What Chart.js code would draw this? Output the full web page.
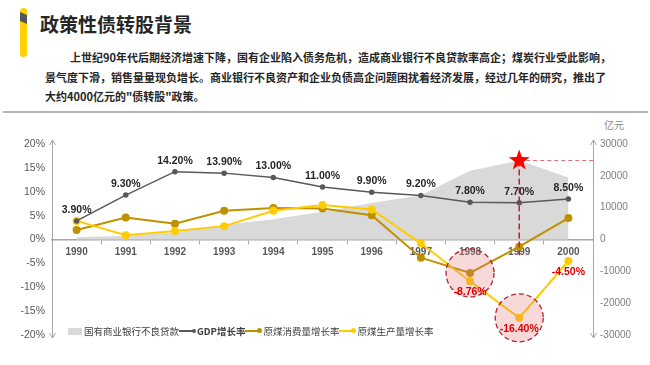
<!DOCTYPE html>
<html>
<head>
<meta charset="utf-8">
<script src="https://cdn.jsdelivr.net/npm/chart.js@4"></script>
<style>
  body { margin: 0; background: #fff; }
  #page { position: relative; width: 650px; height: 365px; overflow: hidden; font-family: "Noto Sans CJK SC", "Liberation Sans", sans-serif; }
  #bar { position: absolute; left: 20px; top: 8px; width: 7px; height: 49px; background: #FFD100; border-radius: 4px; overflow: hidden; }
  #bar div { position: absolute; left: 0; top: 4px; width: 7px; height: 12px; background: #555; clip-path: polygon(0 0, 100% 25%, 100% 100%, 0 75%); }
  #title { position: absolute; left: 40px; top: 10px; font-size: 19px; font-weight: bold; color: #262626; line-height: 28px; }
  #para { position: absolute; left: 45px; top: 48px; font-size: 11px; font-weight: bold; color: #262626; line-height: 19.5px; white-space: nowrap; }
  #rule { position: absolute; left: 3px; top: 111px; width: 645px; height: 2px; background: #b4b4b4; }
  #unit { position: absolute; left: 604px; top: 117px; font-size: 10px; color: #8c8c8c; }
  #chartBox { position: absolute; left: 0; top: 0; width: 650px; height: 365px; }
  #legend { position: absolute; left: 68px; top: 324px; font-size: 9.5px; color: #404040; display: flex; align-items: center; white-space: nowrap; }
  #legend .box { width: 14px; height: 7px; background: #d9d9d9; margin-right: 2px; }
  #legend .ln { position: relative; width: 16px; height: 2px; }
  #legend .ln i { position: absolute; right: -1px; top: -2px; width: 5px; height: 5px; border-radius: 50%; }
</style>
</head>
<body>
<div id="page">
  <div id="bar"><div></div></div>
  <div id="title">政策性债转股背景</div>
  <div id="para"><span style="padding-left:25px">上世纪90年代后期经济增速下降，国有企业陷入债务危机，造成商业银行不良贷款率高企；煤炭行业受此影响，</span><br>景气度下滑，销售量量现负增长。商业银行不良资产和企业负债高企问题困扰着经济发展，经过几年的研究，推出了<br>大约4000亿元的"债转股"政策。</div>
  <div id="rule"></div>
  <div id="unit">亿元</div>
  <div id="chartBox"><canvas id="chart" width="650" height="365"></canvas></div>
  <div id="legend">
    <span class="box"></span><span>国有商业银行不良贷款</span>
    <span class="ln" style="background:#595959"><i style="background:#595959;width:4px;height:4px;top:-1px"></i></span><span style="font-weight:bold;margin-left:2px">GDP增长率</span>
    <span class="ln" style="background:#BF9000"><i style="background:#BF9000"></i></span><span style="margin-left:2px">原煤消费量增长率</span>
    <span class="ln" style="background:#FFCC00"><i style="background:#FFCC00"></i></span><span style="margin-left:2px">原煤生产量增长率</span>
  </div>
</div>
<script>
const years = ['1990', '1991', '1992', '1993', '1994', '1995', '1996', '1997', '1998', '1999', '2000'];
const gdpGrowth = [3.9, 9.3, 14.2, 13.9, 13.0, 11.0, 9.9, 9.2, 7.8, 7.7, 8.5];
const coalConsumption = [2.0, 4.6, 3.3, 6.0, 6.6, 6.5, 5.1, -3.8, -7.0, -1.5, 4.5];
const coalProduction = [3.9, 0.9, 1.8, 2.8, 6.0, 7.2, 6.3, -0.8, -8.76, -16.4, -4.5];
const badLoans = [700, 1200, 2200, 4600, 6400, 8700, 11500, 13900, 21600, 24800, 19500];
const pctTicks = [-20, -15, -10, -5, 0, 5, 10, 15, 20];
const loanTicks = [-30000, -20000, -10000, 0, 10000, 20000, 30000];
// points singled out in red on the production series
const redLabelIdx = [8, 9, 10];
const starIdx = 9;

// data labels, arrows, star and circles
const extrasPlugin = {
    id: 'extras',
    afterDatasetsDraw(chart) {
        const ctx = chart.ctx;
        const area = chart.chartArea;
        const yS = chart.scales.y;
        const gdpMeta = chart.getDatasetMeta(1);
        const consMeta = chart.getDatasetMeta(2);
        const prodMeta = chart.getDatasetMeta(3);
        const loanMeta = chart.getDatasetMeta(0);

        // circles
        ctx.save();
        const circles = [consMeta.data[8], prodMeta.data[9]];
        circles.forEach(p => {
            ctx.beginPath();
            ctx.arc(p.x, p.y, 24, 0, Math.PI * 2);
            ctx.fillStyle = 'rgba(225, 120, 120, 0.28)';
            ctx.fill();
            ctx.setLineDash([5, 3]);
            ctx.strokeStyle = '#B4202A';
            ctx.lineWidth = 1.3;
            ctx.stroke();
        });
        ctx.restore();

        // star + dashed guides
        const sp = loanMeta.data[starIdx];
        ctx.save();
        ctx.setLineDash([6, 3]);
        ctx.strokeStyle = '#C0202A';
        ctx.lineWidth = 1.5;
        ctx.beginPath();
        ctx.moveTo(sp.x, sp.y);
        ctx.lineTo(sp.x, yS.getPixelForValue(-3.3));
        ctx.stroke();
        ctx.setLineDash([4, 3]);
        ctx.strokeStyle = '#D86A78';
        ctx.lineWidth = 1;
        ctx.beginPath();
        ctx.moveTo(sp.x, sp.y);
        ctx.lineTo(area.right, sp.y);
        ctx.stroke();
        ctx.setLineDash([]);
        ctx.fillStyle = '#FF0000';
        ctx.beginPath();
        for (let k = 0; k < 10; k++) {
            const r = k % 2 === 0 ? 11 : 4.5;
            const a = -Math.PI / 2 + k * Math.PI / 5;
            const px = sp.x + r * Math.cos(a);
            const py = sp.y + r * Math.sin(a);
            if (k === 0) ctx.moveTo(px, py); else ctx.lineTo(px, py);
        }
        ctx.closePath();
        ctx.fill();
        ctx.restore();

        // labels
        ctx.save();
        ctx.textAlign = 'center';
        ctx.textBaseline = 'middle';
        ctx.font = 'bold 10.5px "Liberation Sans", Arial';
        ctx.fillStyle = '#262626';
        gdpMeta.data.forEach((p, i) => {
            ctx.fillText(gdpGrowth[i].toFixed(2) + '%', p.x, p.y - 11);
        });
        ctx.fillStyle = '#E00000';
        redLabelIdx.forEach(i => {
            const p = prodMeta.data[i];
            ctx.fillText(coalProduction[i].toFixed(2) + '%', p.x, p.y + 11);
        });
        ctx.restore();

        // axis lines with arrows
        ctx.save();
        ctx.strokeStyle = '#a6a6a6';
        ctx.lineWidth = 1;
        [area.left, area.right].forEach(x => {
            const xx = Math.round(x) + 0.5;
            ctx.beginPath();
            ctx.moveTo(xx, area.top - 4);
            ctx.lineTo(xx, area.bottom + 3);
            ctx.moveTo(xx - 3, area.top + 1);
            ctx.lineTo(xx, area.top - 4);
            ctx.lineTo(xx + 3, area.top + 1);
            ctx.moveTo(xx - 3, area.bottom - 2);
            ctx.lineTo(xx, area.bottom + 3);
            ctx.lineTo(xx + 3, area.bottom - 2);
            ctx.stroke();
        });
        ctx.restore();
    }
};

new Chart(document.getElementById('chart').getContext('2d'), {
    data: {
        labels: years,
        datasets: [
            {
                type: 'line',
                label: '国有商业银行不良贷款',
                data: badLoans,
                yAxisID: 'y1',
                fill: 'origin',
                backgroundColor: '#d9d9d9',
                borderWidth: 0,
                pointRadius: 0,
                tension: 0,
                order: 10,
            },
            {
                type: 'line',
                label: 'GDP增长率',
                data: gdpGrowth,
                yAxisID: 'y',
                borderColor: '#595959',
                backgroundColor: '#595959',
                borderWidth: 1.5,
                pointRadius: 2,
                order: 1,
            },
            {
                type: 'line',
                label: '原煤消费量增长率',
                data: coalConsumption,
                yAxisID: 'y',
                borderColor: '#BF9000',
                backgroundColor: '#BF9000',
                borderWidth: 2,
                pointRadius: 3,
                order: 3,
            },
            {
                type: 'line',
                label: '原煤生产量增长率',
                data: coalProduction,
                yAxisID: 'y',
                borderColor: '#FFCC00',
                backgroundColor: '#FFCC00',
                borderWidth: 2,
                pointRadius: 3,
                order: 2,
            },
        ],
    },
    options: {
        responsive: false,
        animation: false,
        layout: { padding: { left: 0, right: 0, top: 144, bottom: 30 } },
        plugins: {
            legend: { display: false },
            tooltip: { enabled: false },
        },
        scales: {
            x: {
                type: 'category',
                axis: 'x',
                position: { y: 0 },
                offset: true,
                grid: { display: true, drawOnChartArea: false, drawTicks: true, tickLength: 4, offset: true, color: '#a6a6a6' },
                border: { color: '#a6a6a6', width: 1.5 },
                ticks: { color: '#595959', font: { size: 10, weight: 'bold', family: '"Liberation Sans", Arial' }, padding: 3 },
            },
            y: {
                position: 'left',
                min: -20,
                max: 20,
                afterBuildTicks: (scale) => { scale.ticks = pctTicks.map(v => ({ value: v })); },
                afterFit: (scale) => { scale.width = 52; },
                grid: { display: false, drawTicks: false },
                border: { display: false },
                ticks: {
                    color: '#595959',
                    padding: 7,
                    font: { size: 10.5, family: '"Liberation Sans", Arial' },
                    callback: (v) => v + '%',
                },
            },
            y1: {
                position: 'right',
                min: -30000,
                max: 30000,
                afterBuildTicks: (scale) => { scale.ticks = loanTicks.map(v => ({ value: v })); },
                afterFit: (scale) => { scale.width = 57; },
                grid: { display: false, drawTicks: false },
                border: { display: false },
                ticks: {
                    color: '#7f7f7f',
                    padding: 7,
                    font: { size: 10, family: '"Liberation Sans", Arial' },
                    callback: (v) => String(v),
                },
            },
        },
    },
    plugins: [extrasPlugin],
});
</script>
</body>
</html>
